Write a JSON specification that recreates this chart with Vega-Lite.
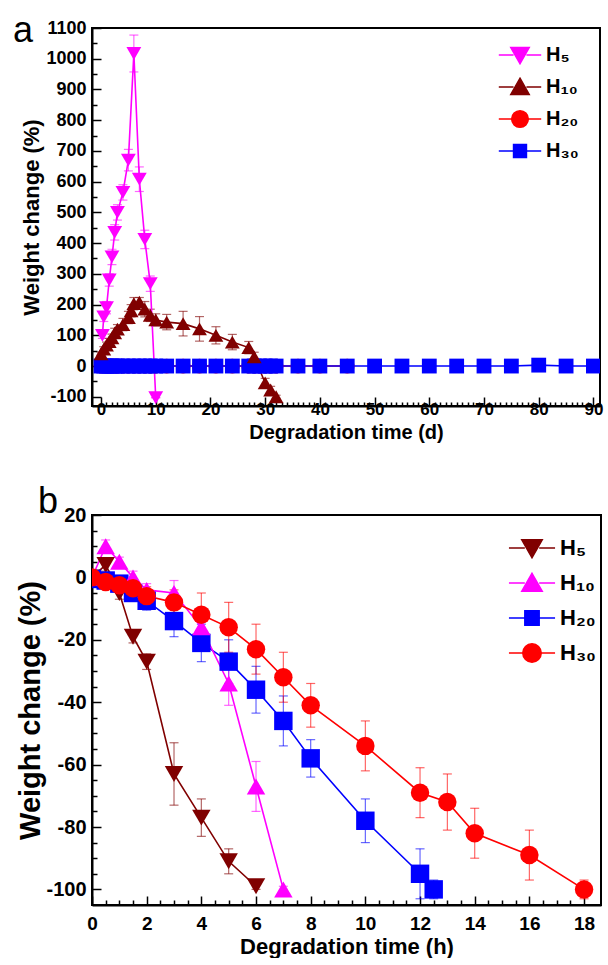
{
  "$schema": "https://vega.github.io/schema/vega-lite/v6.json",
  "background": "white",
  "padding": {"left": 12, "top": 12, "right": 0, "bottom": 0},
  "config": {
    "view": {"stroke": "black", "strokeWidth": 2},
    "font": "Liberation Sans",
    "axis": {
      "grid": false, "domainColor": "black", "domainWidth": 2, "tickColor": "black", "tickWidth": 1.5,
      "labelColor": "black", "titleColor": "black", "labelFont": "Liberation Sans", "titleFont": "Liberation Sans",
      "labelFontWeight": "bold", "titleFontWeight": "bold", "labelFlush": false, "labelOverlap": false, "labelBound": false
    },
    "legend": {"labelFont": "Liberation Sans", "labelFontWeight": "bold", "labelColor": "black"}
  },
  "resolve": {"scale": {"color": "independent", "shape": "independent"}},
  "datasets": {
    "a": [
      {"s":"H20","t":0,"w":0,"e":5},{"s":"H20","t":0.5,"w":0,"e":5},{"s":"H20","t":1,"w":0,"e":5},{"s":"H20","t":1.5,"w":0,"e":5},{"s":"H20","t":2,"w":0,"e":5},{"s":"H20","t":2.5,"w":0,"e":5},{"s":"H20","t":3,"w":0,"e":5},{"s":"H20","t":4,"w":0,"e":5},{"s":"H20","t":5,"w":0,"e":5},{"s":"H20","t":6,"w":0,"e":5},{"s":"H20","t":7,"w":0,"e":5},{"s":"H20","t":8,"w":0,"e":5},{"s":"H20","t":9,"w":0,"e":5},{"s":"H20","t":10,"w":0,"e":5},{"s":"H20","t":12,"w":0,"e":5},{"s":"H20","t":15,"w":0,"e":5},{"s":"H20","t":18,"w":0,"e":5},{"s":"H20","t":21,"w":0,"e":5},{"s":"H20","t":24,"w":0,"e":5},{"s":"H20","t":27,"w":0,"e":5},{"s":"H20","t":28,"w":0,"e":5},{"s":"H20","t":29,"w":0,"e":5},{"s":"H20","t":30,"w":0,"e":5},{"s":"H20","t":31,"w":0,"e":5},{"s":"H20","t":32,"w":0,"e":5},{"s":"H20","t":36,"w":0,"e":5},{"s":"H20","t":40,"w":0,"e":5},{"s":"H20","t":45,"w":0,"e":5},
      {"s":"H30","t":0,"w":0,"e":4},{"s":"H30","t":0.5,"w":0,"e":4},{"s":"H30","t":1,"w":0,"e":4},{"s":"H30","t":1.5,"w":0,"e":4},{"s":"H30","t":2,"w":0,"e":4},{"s":"H30","t":2.5,"w":0,"e":4},{"s":"H30","t":3,"w":0,"e":4},{"s":"H30","t":4,"w":0,"e":4},{"s":"H30","t":5,"w":0,"e":4},{"s":"H30","t":6,"w":0,"e":4},{"s":"H30","t":7,"w":0,"e":4},{"s":"H30","t":8,"w":0,"e":4},{"s":"H30","t":9,"w":0,"e":4},{"s":"H30","t":10,"w":0,"e":4},{"s":"H30","t":12,"w":0,"e":4},{"s":"H30","t":15,"w":0,"e":4},{"s":"H30","t":18,"w":0,"e":4},{"s":"H30","t":21,"w":0,"e":4},{"s":"H30","t":24,"w":0,"e":4},{"s":"H30","t":27,"w":0,"e":4},{"s":"H30","t":28,"w":0,"e":4},{"s":"H30","t":29,"w":0,"e":4},{"s":"H30","t":30,"w":0,"e":4},{"s":"H30","t":31,"w":0,"e":4},{"s":"H30","t":32,"w":0,"e":4},{"s":"H30","t":36,"w":0,"e":4},{"s":"H30","t":40,"w":0,"e":4},{"s":"H30","t":45,"w":0,"e":4},{"s":"H30","t":50,"w":0,"e":3},{"s":"H30","t":55,"w":0,"e":3},{"s":"H30","t":60,"w":0,"e":3},{"s":"H30","t":65,"w":0,"e":3},{"s":"H30","t":70,"w":0,"e":3},{"s":"H30","t":75,"w":0,"e":3},{"s":"H30","t":80,"w":3,"e":3},{"s":"H30","t":85,"w":0,"e":3},{"s":"H30","t":90,"w":0,"e":3},
      {"s":"H10","t":0,"w":40,"e":5},{"s":"H10","t":0.5,"w":55,"e":8},{"s":"H10","t":1,"w":68,"e":10},{"s":"H10","t":1.5,"w":80,"e":10},{"s":"H10","t":2,"w":92,"e":12},{"s":"H10","t":2.5,"w":108,"e":15},{"s":"H10","t":3,"w":120,"e":15},{"s":"H10","t":4,"w":135,"e":20},{"s":"H10","t":5,"w":158,"e":20},{"s":"H10","t":5.5,"w":180,"e":20},{"s":"H10","t":6,"w":203,"e":20},{"s":"H10","t":7,"w":208,"e":15},{"s":"H10","t":8,"w":185,"e":25},{"s":"H10","t":9,"w":165,"e":20},{"s":"H10","t":10,"w":150,"e":20},{"s":"H10","t":12,"w":143,"e":25},{"s":"H10","t":15,"w":138,"e":40},{"s":"H10","t":18,"w":121,"e":40},{"s":"H10","t":21,"w":100,"e":28},{"s":"H10","t":24,"w":78,"e":25},{"s":"H10","t":27,"w":60,"e":20},{"s":"H10","t":28,"w":30,"e":15},{"s":"H10","t":30,"w":-55,"e":15},{"s":"H10","t":31,"w":-78,"e":12},{"s":"H10","t":32,"w":-100,"e":5},
      {"s":"H5","t":0.25,"w":100,"e":10},{"s":"H5","t":0.5,"w":160,"e":15},{"s":"H5","t":1,"w":190,"e":20},{"s":"H5","t":1.5,"w":280,"e":20},{"s":"H5","t":2,"w":355,"e":25},{"s":"H5","t":2.5,"w":435,"e":25},{"s":"H5","t":3,"w":500,"e":25},{"s":"H5","t":4,"w":565,"e":25},{"s":"H5","t":5,"w":670,"e":35},{"s":"H5","t":6,"w":1017,"e":60},{"s":"H5","t":7,"w":608,"e":40},{"s":"H5","t":8,"w":412,"e":30},{"s":"H5","t":9,"w":268,"e":25},{"s":"H5","t":10,"w":-103,"e":0}
    ],
    "b": [
      {"s":"H5","t":0,"w":0,"e":1},{"s":"H5","t":0.5,"w":4,"e":2},{"s":"H5","t":1,"w":-5,"e":2},{"s":"H5","t":1.5,"w":-19,"e":2},{"s":"H5","t":2,"w":-27,"e":2.5},{"s":"H5","t":3,"w":-63,"e":10},{"s":"H5","t":4,"w":-77,"e":6},{"s":"H5","t":5,"w":-91,"e":4},{"s":"H5","t":6,"w":-99,"e":1},
      {"s":"H20","t":0,"w":-0.5,"e":1},{"s":"H20","t":0.5,"w":-1,"e":1},{"s":"H20","t":1,"w":-2,"e":1.5},{"s":"H20","t":1.5,"w":-5,"e":2},{"s":"H20","t":2,"w":-7.5,"e":3},{"s":"H20","t":3,"w":-14,"e":5},{"s":"H20","t":4,"w":-21,"e":6},{"s":"H20","t":5,"w":-27,"e":7},{"s":"H20","t":6,"w":-36,"e":7.5},{"s":"H20","t":7,"w":-46,"e":8},{"s":"H20","t":8,"w":-58,"e":6},{"s":"H20","t":10,"w":-78,"e":7},{"s":"H20","t":12,"w":-95,"e":8},{"s":"H20","t":12.5,"w":-100,"e":3},
      {"s":"H10","t":0,"w":0,"e":1},{"s":"H10","t":0.5,"w":10,"e":2},{"s":"H10","t":1,"w":5,"e":1.5},{"s":"H10","t":1.5,"w":0,"e":2},{"s":"H10","t":2,"w":-4,"e":2},{"s":"H10","t":3,"w":-5,"e":4},{"s":"H10","t":4,"w":-16,"e":5},{"s":"H10","t":5,"w":-34,"e":7},{"s":"H10","t":6,"w":-67,"e":8},{"s":"H10","t":7,"w":-100,"e":1},
      {"s":"H30","t":0,"w":0,"e":1},{"s":"H30","t":0.5,"w":-1.5,"e":1},{"s":"H30","t":1,"w":-2.5,"e":1.5},{"s":"H30","t":1.5,"w":-3.5,"e":2},{"s":"H30","t":2,"w":-6,"e":3},{"s":"H30","t":3,"w":-8,"e":4},{"s":"H30","t":4,"w":-12,"e":7},{"s":"H30","t":5,"w":-16,"e":8},{"s":"H30","t":6,"w":-23,"e":8},{"s":"H30","t":7,"w":-32,"e":8},{"s":"H30","t":8,"w":-41,"e":7},{"s":"H30","t":10,"w":-54,"e":8},{"s":"H30","t":12,"w":-69,"e":8},{"s":"H30","t":13,"w":-72,"e":9},{"s":"H30","t":14,"w":-82,"e":8},{"s":"H30","t":16,"w":-89,"e":8},{"s":"H30","t":18,"w":-100,"e":3}
    ]
  },
  "concat": [
    {
      "width": 508, "height": 378,
      "title": {"text": "a", "anchor": "start", "frame": "group", "fontSize": 36, "font": "Liberation Sans", "fontWeight": "normal", "offset": -31, "dx": -79, "color": "black"},
      "data": {"name": "a"},
      "encoding": {
        "x": {"field": "t", "type": "quantitative", "scale": {"domain": [-1.65, 91.2], "nice": false, "zero": false},
          "axis": {"title": "Degradation time (d)", "titleFontSize": 20, "labelFontSize": 17, "titlePadding": 0, "labelPadding": 4,
            "values": [0,1,2,3,4,5,6,7,8,9,10,11,12,13,14,15,16,17,18,19,20,21,22,23,24,25,26,27,28,29,30,31,32,33,34,35,36,37,38,39,40,41,42,43,44,45,46,47,48,49,50,51,52,53,54,55,56,57,58,59,60,61,62,63,64,65,66,67,68,69,70,71,72,73,74,75,76,77,78,79,80,81,82,83,84,85,86,87,88,89,90],
            "labelExpr": "datum.value % 10 === 0 ? '' + datum.value : ''",
            "tickSize": {"condition": {"test": "datum.value % 10 === 0", "value": -9}, "value": -4}}},
        "y": {"field": "w", "type": "quantitative", "scale": {"domain": [-130, 1100], "nice": false, "zero": false},
          "axis": {"title": "Weight change (%)", "titleFontSize": 22, "labelFontSize": 18, "titlePadding": 2, "labelPadding": 15,
            "values": [-100,-50,0,50,100,150,200,250,300,350,400,450,500,550,600,650,700,750,800,850,900,950,1000,1050,1100],
            "labelExpr": "datum.value % 100 === 0 ? '' + datum.value : ''",
            "tickSize": {"condition": {"test": "datum.value % 100 === 0", "value": -9}, "value": -5}}}
      },
      "resolve": {"scale": {"shape": "independent"}},
      "layer": [
        {"mark": {"type": "errorbar", "ticks": {"size": 9}, "thickness": 1.2, "opacity": 0.6, "clip": true},
         "encoding": {"yError": {"field": "e"},
           "color": {"field": "s", "type": "nominal", "scale": {"domain": ["H5","H10","H20","H30"], "range": ["#ff00ff","#800000","#ff0000","#0000ff"]}, "legend": null}}},
        {"mark": {"type": "line", "strokeWidth": 1.6, "clip": true},
         "encoding": {"color": {"field": "s", "type": "nominal", "legend": null}}},
        {"mark": {"type": "point", "filled": true, "opacity": 1, "size": 220, "clip": true},
         "encoding": {"color": {"field": "s", "type": "nominal", "legend": null},
           "shape": {"field": "s", "type": "nominal", "scale": {"domain": ["H5","H10","H20","H30"], "range": ["triangle-down","triangle-up","circle","square"]}, "legend": null}}},
        {"mark": {"type": "point", "filled": true, "opacity": 0, "strokeWidth": 1.5,
           "fill": {"expr": "datum.value === 'H5' ? '#ff00ff' : datum.value === 'H10' ? '#800000' : datum.value === 'H20' ? '#ff0000' : '#0000ff'"},
           "stroke": {"expr": "datum.value === 'H5' ? '#ff00ff' : datum.value === 'H10' ? '#800000' : datum.value === 'H20' ? '#ff0000' : '#0000ff'"}},
         "encoding": {
           "shape": {"field": "s", "type": "nominal", "scale": {"domain": ["H5","H10","H20","H30"], "range": [
             "M-2.3,0H-0.7M0.7,0H2.3M-1,-0.8L1,-0.8L0,0.95Z",
             "M-2.3,0H-0.7M0.7,0H2.3M0,-0.95L1,0.8L-1,0.8Z",
             "M-2.3,0H-0.9M0.9,0H2.3M-0.9,0A0.9,0.9 0 1,0 0.9,0A0.9,0.9 0 1,0 -0.9,0Z",
             "M-2.3,0H-0.7M0.7,0H2.3M-0.7,-0.7H0.7V0.7H-0.7Z"]},
             "legend": {"title": null, "orient": "none", "legendX": 418, "legendY": 17, "padding": 0, "gridAlign": "all", "symbolSize": 340, "symbolStrokeWidth": 1.5, "symbolOpacity": 1, "labelFontSize": 20, "labelOffset": 16, "rowPadding": 8,
               "labelExpr": "{'H5':'H₅','H10':'H₁₀','H20':'H₂₀','H30':'H₃₀'}[datum.label]"}}}}
      ]
    },
    {
      "width": 509, "height": 390,
      "title": {"text": "b", "anchor": "start", "frame": "group", "fontSize": 36, "font": "Liberation Sans", "fontWeight": "normal", "offset": -16, "dx": -54, "color": "black"},
      "data": {"name": "b"},
      "encoding": {
        "x": {"field": "t", "type": "quantitative", "scale": {"domain": [0, 18.62], "nice": false, "zero": false},
          "axis": {"title": "Degradation time (h)", "titleFontSize": 22, "labelFontSize": 19, "titlePadding": -1, "labelPadding": 18,
            "values": [0,0.5,1,1.5,2,2.5,3,3.5,4,4.5,5,5.5,6,6.5,7,7.5,8,8.5,9,9.5,10,10.5,11,11.5,12,12.5,13,13.5,14,14.5,15,15.5,16,16.5,17,17.5,18],
            "labelExpr": "datum.value % 2 === 0 ? '' + datum.value : ''",
            "tickSize": {"condition": {"test": "datum.value % 2 === 0", "value": -9}, "value": -5}}},
        "y": {"field": "w", "type": "quantitative", "scale": {"domain": [-105, 20], "nice": false, "zero": false},
          "axis": {"title": "Weight change (%)", "titleFontSize": 29, "labelFontSize": 20, "titlePadding": 0, "labelPadding": 15,
            "values": [-100,-95,-90,-85,-80,-75,-70,-65,-60,-55,-50,-45,-40,-35,-30,-25,-20,-15,-10,-5,0,5,10,15,20],
            "labelExpr": "datum.value % 20 === 0 ? '' + datum.value : ''",
            "tickSize": {"condition": {"test": "datum.value % 20 === 0", "value": -9}, "value": -5}}}
      },
      "resolve": {"scale": {"shape": "independent"}},
      "layer": [
        {"mark": {"type": "errorbar", "ticks": {"size": 9}, "thickness": 1.2, "opacity": 0.6, "clip": true},
         "encoding": {"yError": {"field": "e"},
           "color": {"field": "s", "type": "nominal", "scale": {"domain": ["H5","H10","H20","H30"], "range": ["#800000","#ff00ff","#0000ff","#ff0000"]}, "legend": null}}},
        {"mark": {"type": "line", "strokeWidth": 1.6, "clip": true},
         "encoding": {"color": {"field": "s", "type": "nominal", "legend": null}}},
        {"mark": {"type": "point", "filled": true, "opacity": 1, "size": 340, "clip": true},
         "encoding": {"color": {"field": "s", "type": "nominal", "legend": null},
           "shape": {"field": "s", "type": "nominal", "scale": {"domain": ["H5","H10","H20","H30"], "range": ["triangle-down","triangle-up","square","circle"]}, "legend": null}}},
        {"mark": {"type": "point", "filled": true, "opacity": 0, "strokeWidth": 1.5,
           "fill": {"expr": "datum.value === 'H5' ? '#800000' : datum.value === 'H10' ? '#ff00ff' : datum.value === 'H20' ? '#0000ff' : '#ff0000'"},
           "stroke": {"expr": "datum.value === 'H5' ? '#800000' : datum.value === 'H10' ? '#ff00ff' : datum.value === 'H20' ? '#0000ff' : '#ff0000'"}},
         "encoding": {
           "shape": {"field": "s", "type": "nominal", "scale": {"domain": ["H5","H10","H20","H30"], "range": [
             "M-2.25,0H-0.7M0.7,0H2.25M-1,-0.8L1,-0.8L0,0.95Z",
             "M-2.25,0H-0.7M0.7,0H2.25M0,-0.95L1,0.8L-1,0.8Z",
             "M-2.25,0H-0.7M0.7,0H2.25M-0.7,-0.7H0.7V0.7H-0.7Z",
             "M-2.25,0H-0.9M0.9,0H2.25M-0.9,0A0.9,0.9 0 1,0 0.9,0A0.9,0.9 0 1,0 -0.9,0Z"]},
             "legend": {"title": null, "orient": "none", "legendX": 429, "legendY": 22, "padding": 0, "gridAlign": "all", "symbolSize": 420, "symbolStrokeWidth": 1.5, "symbolOpacity": 1, "labelFontSize": 22, "labelOffset": 17, "rowPadding": 9,
               "labelExpr": "{'H5':'H₅','H10':'H₁₀','H20':'H₂₀','H30':'H₃₀'}[datum.label]"}}}}
      ]
    }
  ],
  "columns": 1,
  "spacing": 40
}
